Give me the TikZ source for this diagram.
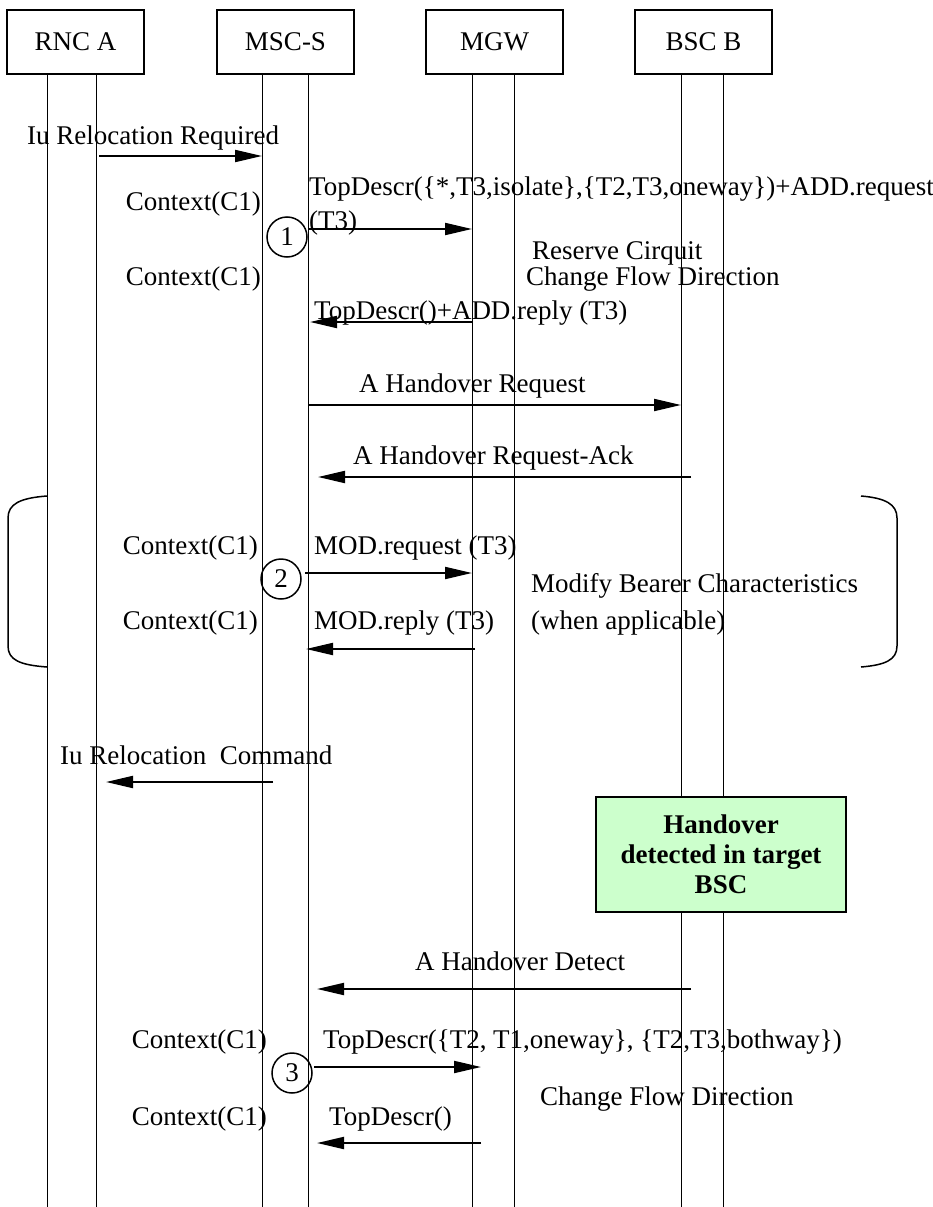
\documentclass[tikz,border=0pt]{standalone}
\usepackage{fontspec}
\setmainfont{Liberation Serif}
\usetikzlibrary{arrows.meta}
\begin{document}
\begin{tikzpicture}[x=1pt,y=-1pt,
  ent/.style={draw,line width=1.5pt,minimum width=137pt,minimum height=64pt,inner sep=0pt,font=\fontsize{27}{30}\selectfont},
  life/.style={line width=1pt},
  msg/.style={line width=2pt,-{Triangle[length=27pt,width=12pt]}},
  lbl/.style={inner sep=0pt,font=\fontsize{27}{30}\selectfont},
  num/.style={draw,circle,line width=1.5pt,minimum size=40pt,inner sep=0pt,font=\fontsize{27}{30}\selectfont},
  brk/.style={line width=1.5pt},
  note/.style={draw,line width=1.5pt,fill=green!20,minimum width=250pt,minimum height=115pt,inner sep=0pt,align=center,font=\fontsize{27}{30}\selectfont\bfseries}]
\useasboundingbox (0,0) rectangle (933,1207);
% entities
\node[ent] (rnc) at (75.5,42) {RNC A};
\node[ent] (msc) at (285.5,42) {MSC-S};
\node[ent] (mgw) at (494.5,42) {MGW};
\node[ent] (bsc) at (703.5,42) {BSC B};
% lifelines
\foreach \n/\x in {ra/47,rb/96,ma/262,mb/308,ga/472,gb/514,ba/681,bb/723}{
  \coordinate (\n t) at (\x,74);
  \coordinate (\n b) at (\x,1207);
  \draw[life] (\n t) -- (\n b);
}
% coordinates of message ends
\coordinate (a1s) at (99,156);  \coordinate (a1e) at (262,156);
\coordinate (a2s) at (309,229); \coordinate (a2e) at (472,229);
\coordinate (a3s) at (472,322); \coordinate (a3e) at (310,322);
\coordinate (a4s) at (308,405); \coordinate (a4e) at (681,405);
\coordinate (a5s) at (691,477); \coordinate (a5e) at (318,477);
\coordinate (a6s) at (305,573); \coordinate (a6e) at (472,573);
\coordinate (a7s) at (475,649); \coordinate (a7e) at (306,649);
\coordinate (a8s) at (273,782); \coordinate (a8e) at (106,782);
\coordinate (a9s) at (691,989); \coordinate (a9e) at (317,989);
\coordinate (a10s) at (314,1067); \coordinate (a10e) at (481,1067);
\coordinate (a11s) at (481,1143); \coordinate (a11e) at (317,1143);
\foreach \i in {1,...,11}{\draw[msg] (a\i s) -- (a\i e);}
% labels (positions are baselines)
\node[lbl,anchor=base west] (t1) at (27,144) {Iu Relocation Required};
\node[lbl,anchor=base west] (t2) at (309,195) {TopDescr(\{*,T3,isolate\},\{T2,T3,oneway\})+ADD.request};
\node[lbl,anchor=base east] (c1) at (261,210) {Context(C1)};
\node[lbl,anchor=base west] (t3) at (309,229) {(T3)};
\node[lbl,anchor=base west] (t4) at (532,259) {Reserve Cirquit};
\node[lbl,anchor=base west] (t5) at (526,285) {Change Flow Direction};
\node[lbl,anchor=base east] (c2) at (261,285) {Context(C1)};
\node[lbl,anchor=base west] (t6) at (314,319) {TopDescr()+ADD.reply (T3)};
\node[lbl,anchor=base west] (t7) at (359,392) {A Handover Request};
\node[lbl,anchor=base west] (t8) at (353,464) {A Handover Request-Ack};
\node[lbl,anchor=base east] (c3) at (258,554) {Context(C1)};
\node[lbl,anchor=base west] (t9) at (314,554) {MOD.request (T3)};
\node[lbl,anchor=base west] (t10) at (531,592) {Modify Bearer Characteristics};
\node[lbl,anchor=base west] (t11) at (531,629) {(when applicable)};
\node[lbl,anchor=base east] (c4) at (258,629) {Context(C1)};
\node[lbl,anchor=base west] (t12) at (314,629) {MOD.reply (T3)};
\node[lbl,anchor=base west] (t13) at (60,764) {Iu Relocation\ \ Command};
\node[lbl,anchor=base west] (t14) at (415,970) {A Handover Detect};
\node[lbl,anchor=base east] (c5) at (267,1048) {Context(C1)};
\node[lbl,anchor=base west] (t15) at (323,1048) {TopDescr(\{T2, T1,oneway\}, \{T2,T3,bothway\})};
\node[lbl,anchor=base west] (t16) at (540,1105) {Change Flow Direction};
\node[lbl,anchor=base east] (c6) at (267,1125) {Context(C1)};
\node[lbl,anchor=base west] (t17) at (329,1125) {TopDescr()};
% numbered circles
\node[num] (n1) at (287,237) {1};
\node[num] (n2) at (281,579) {2};
\node[num] (n3) at (292,1073) {3};
% note
\node[note] (hd) at (721,854.5) {Handover\\detected in target\\BSC};
% brackets
\coordinate (lbt) at (47,496); \coordinate (lbb) at (47,667);
\coordinate (rbt) at (861,496); \coordinate (rbb) at (861,667);
\draw[brk] (lbt) .. controls (20,498) and (8,504) .. (8,518) -- (8,646) .. controls (8,660) and (20,665) .. (lbb);
\draw[brk] (rbt) .. controls (885,498) and (897,504) .. (897,518) -- (897,646) .. controls (897,660) and (885,665) .. (rbb);
\end{tikzpicture}
\end{document}
